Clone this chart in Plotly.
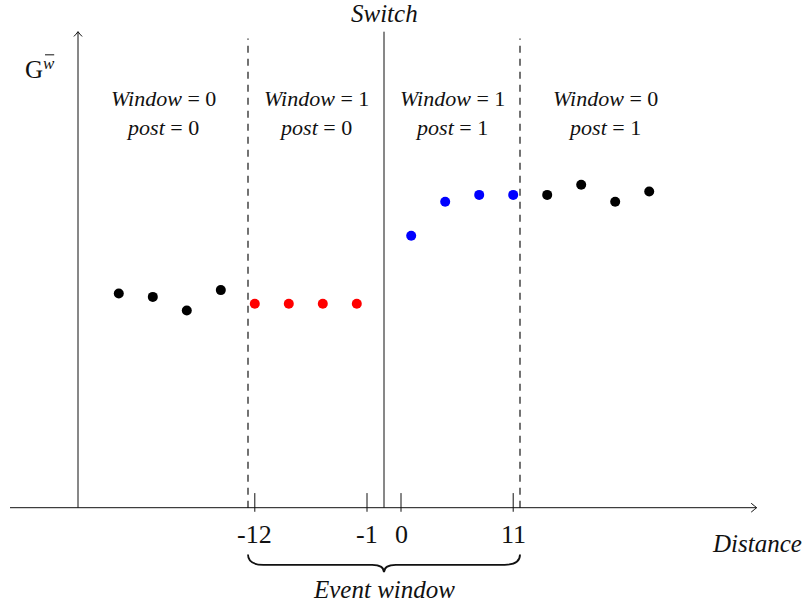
import plotly.graph_objects as go

# Schematic positions (1 unit = one point spacing), switch at x = 0
pre_out_x = [-7.8, -6.8, -5.8, -4.8]
pre_out_y = [6.3, 6.2, 5.8, 6.4]
pre_win_x = [-3.8, -2.8, -1.8, -0.8]
pre_win_y = [6.0, 6.0, 6.0, 6.0]
post_win_x = [0.8, 1.8, 2.8, 3.8]
post_win_y = [8.0, 9.0, 9.2, 9.2]
post_out_x = [4.8, 5.8, 6.8, 7.8]
post_out_y = [9.2, 9.5, 9.0, 9.3]

tick_pos = [-3.8, -0.5, 0.5, 3.8]
tick_text = ["-12", "-1", "0", "11"]

region_x = [-6.5, -2.0, 2.0, 6.5]
window_vals = [0, 1, 1, 0]
post_vals = [0, 0, 1, 1]

window_edges = [-4.0, 4.0]

FONT = "Liberation Serif"
INK = "#111111"

fig = go.Figure()

groups = [
    (pre_out_x, pre_out_y, "black"),
    (pre_win_x, pre_win_y, "#ff0000"),
    (post_win_x, post_win_y, "#0000ff"),
    (post_out_x, post_out_y, "black"),
]
for gx, gy, col in groups:
    fig.add_trace(go.Scatter(
        x=gx, y=gy, mode="markers",
        marker=dict(color=col, size=10),
        showlegend=False, hoverinfo="skip", cliponaxis=False
    ))

line = dict(color=INK, width=1)

# axes
fig.add_shape(type="line", x0=-11.0, x1=10.96, y0=0, y1=0, line=line)
fig.add_shape(type="line", x0=-9.0, x1=-9.0, y0=0, y1=14.0, line=line)
# arrow tips (open chevrons)
fig.add_shape(type="path", path="M 10.80,0.13 Q 10.90,0.05 10.96,0 Q 10.90,-0.05 10.80,-0.13",
              line=line)
fig.add_shape(type="path", path="M -9.12,13.86 Q -9.05,13.93 -9.0,14.0 Q -8.95,13.93 -8.88,13.86",
              line=line)

# switch line
fig.add_shape(type="line", x0=0, x1=0, y0=0, y1=14.0, line=line)
# event-window borders
for ex in window_edges:
    fig.add_shape(type="line", x0=ex, x1=ex, y0=0, y1=13.8,
                  line=dict(color="#000000", width=1.1, dash="7px,6px"))

# tick marks and labels
for tp, tt in zip(tick_pos, tick_text):
    fig.add_shape(type="line", x0=tp, x1=tp, y0=-0.12, y1=0.43, line=line)
    fig.add_annotation(x=tp, y=-0.8, text=tt, showarrow=False,
                       font=dict(family=FONT, size=26, color=INK),
                       xanchor="center", yanchor="middle")

# brace under event window
fig.add_shape(type="path",
              path="M -4.0,-1.38 Q -4.0,-1.68 -3.55,-1.68 L -0.35,-1.68 "
                   "Q 0,-1.68 0,-1.90 Q 0,-1.68 0.35,-1.68 L 3.55,-1.68 "
                   "Q 4.0,-1.68 4.0,-1.38",
              line=dict(color=INK, width=1.8))

# region labels
for rx, w, p in zip(region_x, window_vals, post_vals):
    fig.add_annotation(x=rx, y=11.6, text=f"<i>Window</i> = {w}<br><i>post</i> = {p}",
                       showarrow=False, align="center",
                       font=dict(family=FONT, size=22, color=INK),
                       xanchor="center", yanchor="middle")

fig.add_annotation(x=0, y=14.55, text="<i>Switch</i>", showarrow=False,
                   font=dict(family=FONT, size=25, color=INK), xanchor="center", yanchor="middle")
fig.add_annotation(x=0, y=-2.42, text="<i>Event window</i>", showarrow=False,
                   font=dict(family=FONT, size=25, color=INK), xanchor="center", yanchor="middle")
fig.add_annotation(x=10.97, y=-1.04, text="<i>Distance</i>", showarrow=False,
                   font=dict(family=FONT, size=25, color=INK), xanchor="center", yanchor="middle")

# y label: G with superscript w-bar
fig.add_annotation(x=-10.28, y=12.89, text="G", showarrow=False,
                   font=dict(family=FONT, size=25, color=INK), xanchor="center", yanchor="middle")
fig.add_annotation(x=-9.84, y=13.07, text="<i>w</i>", showarrow=False,
                   font=dict(family=FONT, size=17, color=INK), xanchor="center", yanchor="middle")
fig.add_shape(type="line", x0=-9.97, x1=-9.70, y0=13.32, y1=13.32,
              line=dict(color=INK, width=1))

fig.update_layout(
    width=807, height=610,
    margin=dict(l=0, r=0, t=0, b=0),
    plot_bgcolor="white", paper_bgcolor="white",
    xaxis=dict(range=[-384 / 34, 423 / 34], visible=False),
    yaxis=dict(range=[-102.3 / 34, 507.7 / 34], visible=False),
    showlegend=False,
)

fig.write_html("out.html", config={"displayModeBar": False},
               post_script="document.body.style.margin='0';")
